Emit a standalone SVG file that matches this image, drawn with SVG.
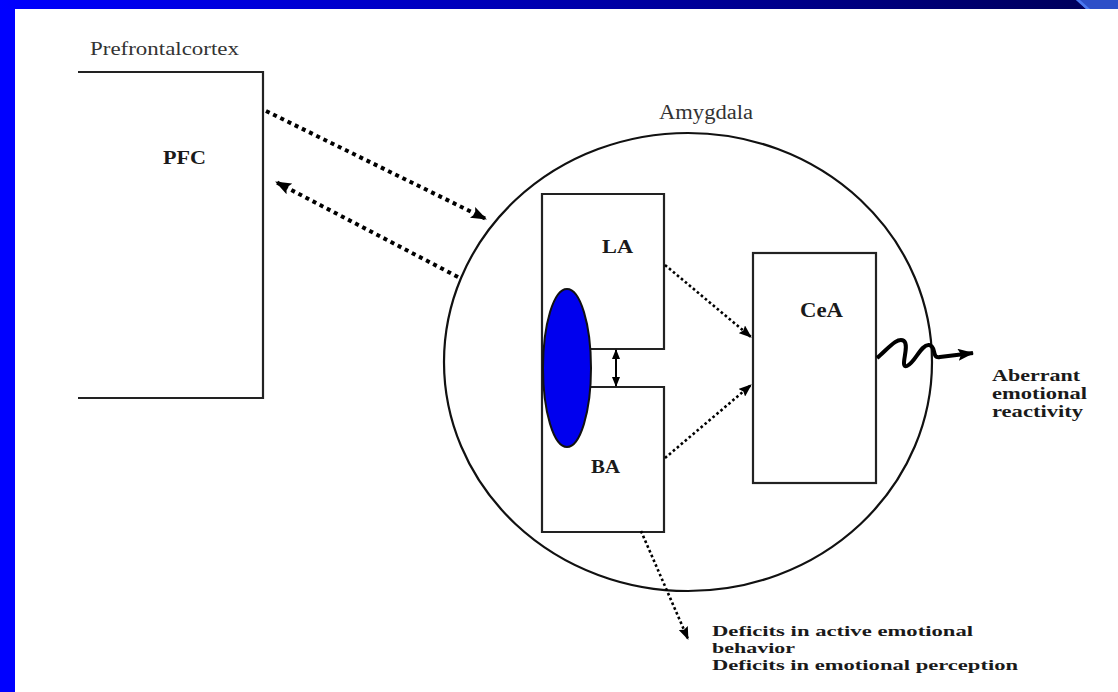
<svg xmlns="http://www.w3.org/2000/svg" width="1118" height="692" viewBox="0 0 1118 692">
<defs>
<linearGradient id="topbar" x1="0" y1="0" x2="1080" y2="0" gradientUnits="userSpaceOnUse">
<stop offset="0" stop-color="#0000ff"/>
<stop offset="0.5" stop-color="#0000b0"/>
<stop offset="1" stop-color="#00005c"/>
</linearGradient>
<marker id="headL" markerUnits="userSpaceOnUse" markerWidth="16" markerHeight="12" refX="15" refY="6" orient="auto">
<path d="M0,0 L16,6 L0,12 L3,6 z" fill="#000"/>
</marker>
<marker id="headM" markerUnits="userSpaceOnUse" markerWidth="13" markerHeight="10" refX="12" refY="5" orient="auto">
<path d="M0,0 L13,5 L0,10 L2,5 z" fill="#000"/>
</marker>
<marker id="headW" markerUnits="userSpaceOnUse" markerWidth="16" markerHeight="12" refX="15" refY="6" orient="auto">
<path d="M0,0 L16,6 L0,12 L3,6 z" fill="#000"/>
</marker>
<marker id="headS" markerUnits="userSpaceOnUse" markerWidth="10" markerHeight="8" refX="9" refY="4" orient="auto-start-reverse">
<path d="M0,0 L10,4 L0,8 z" fill="#000"/>
</marker>
<style>
.box{fill:none;stroke:#222;stroke-width:2.2}
.lbl{font-family:"Liberation Serif",serif;fill:#333}
.bold{font-family:"Liberation Serif",serif;font-weight:bold;fill:#1a1a1a}
.dotL{fill:none;stroke:#000;stroke-width:4;stroke-dasharray:4 4}
.dotS{fill:none;stroke:#000;stroke-width:2.6;stroke-dasharray:2.6 2.6}
</style>
</defs>
<rect x="0" y="0" width="1118" height="692" fill="#fff"/>
<g id="frame">
<rect x="0" y="0" width="15" height="692" fill="#0000ff"/>
<rect x="0" y="0" width="1118" height="9" fill="url(#topbar)"/>
<polygon points="1076,0 1118,0 1118,9 1086,9" fill="#2d4fc8"/>
<polygon points="1076,0 1080,0 1090,9 1086,9" fill="#4a78f0"/>
</g>
<g id="pfc">
<path class="box" d="M78,72 L263,72 L263,398 L78,398"/>
<text class="lbl" x="90" y="55" font-size="19" textLength="149" lengthAdjust="spacingAndGlyphs">Prefrontalcortex</text>
<text class="bold" x="163" y="164" font-size="19" textLength="43" lengthAdjust="spacingAndGlyphs">PFC</text>
</g>
<g id="amygdala">
<ellipse cx="688" cy="362" rx="244" ry="229" fill="none" stroke="#111" stroke-width="2.2"/>
<text class="lbl" x="659" y="119" font-size="20" textLength="94" lengthAdjust="spacingAndGlyphs">Amygdala</text>
</g>
<g id="la-ba">
<path class="box" d="M591,349 L664,349 L664,194 L542,194 L542,532 L664,532 L664,387 L591,387"/>
<text class="bold" x="602" y="253" font-size="18" textLength="31" lengthAdjust="spacingAndGlyphs">LA</text>
<text class="bold" x="591" y="473" font-size="18" textLength="29" lengthAdjust="spacingAndGlyphs">BA</text>
</g>
<g id="lesion">
<ellipse cx="567" cy="368" rx="24" ry="79" fill="#0000ee" stroke="#111" stroke-width="2"/>
</g>
<g id="cea">
<rect class="box" x="753" y="253" width="123" height="230"/>
<text class="bold" x="800" y="317" font-size="20" textLength="43" lengthAdjust="spacingAndGlyphs">CeA</text>
</g>
<g id="outputs">
<text class="bold" font-size="16"><tspan x="992" y="381" textLength="88" lengthAdjust="spacingAndGlyphs">Aberrant</tspan><tspan x="992" y="399" textLength="95" lengthAdjust="spacingAndGlyphs">emotional</tspan><tspan x="992" y="417" textLength="91" lengthAdjust="spacingAndGlyphs">reactivity</tspan></text>
<text class="bold" font-size="15"><tspan x="712" y="636" textLength="261" lengthAdjust="spacingAndGlyphs">Deficits in active emotional</tspan><tspan x="712" y="653" textLength="83" lengthAdjust="spacingAndGlyphs">behavior</tspan><tspan x="712" y="670" textLength="306" lengthAdjust="spacingAndGlyphs">Deficits in emotional perception</tspan></text>
</g>
<g id="connectors">
<line class="dotL" x1="266" y1="111" x2="486" y2="219" marker-end="url(#headL)"/>
<line class="dotL" x1="458" y1="277" x2="276" y2="182" marker-end="url(#headL)"/>
<line class="dotS" x1="665" y1="265" x2="751" y2="337" marker-end="url(#headM)"/>
<line class="dotS" x1="665" y1="458" x2="751" y2="385" marker-end="url(#headM)"/>
<line class="dotS" x1="641" y1="531" x2="688" y2="639" marker-end="url(#headM)"/>
<line x1="616" y1="350" x2="616" y2="386" stroke="#000" stroke-width="2" marker-start="url(#headS)" marker-end="url(#headS)"/>
<path d="M877,358 C886,351 897,336 904,341 C910,346 899,369 907,366 C915,363 921,344 929,345 C937,346 931,359 940,357 L973,353" fill="none" stroke="#000" stroke-width="4" marker-end="url(#headW)"/>
</g>
</svg>
